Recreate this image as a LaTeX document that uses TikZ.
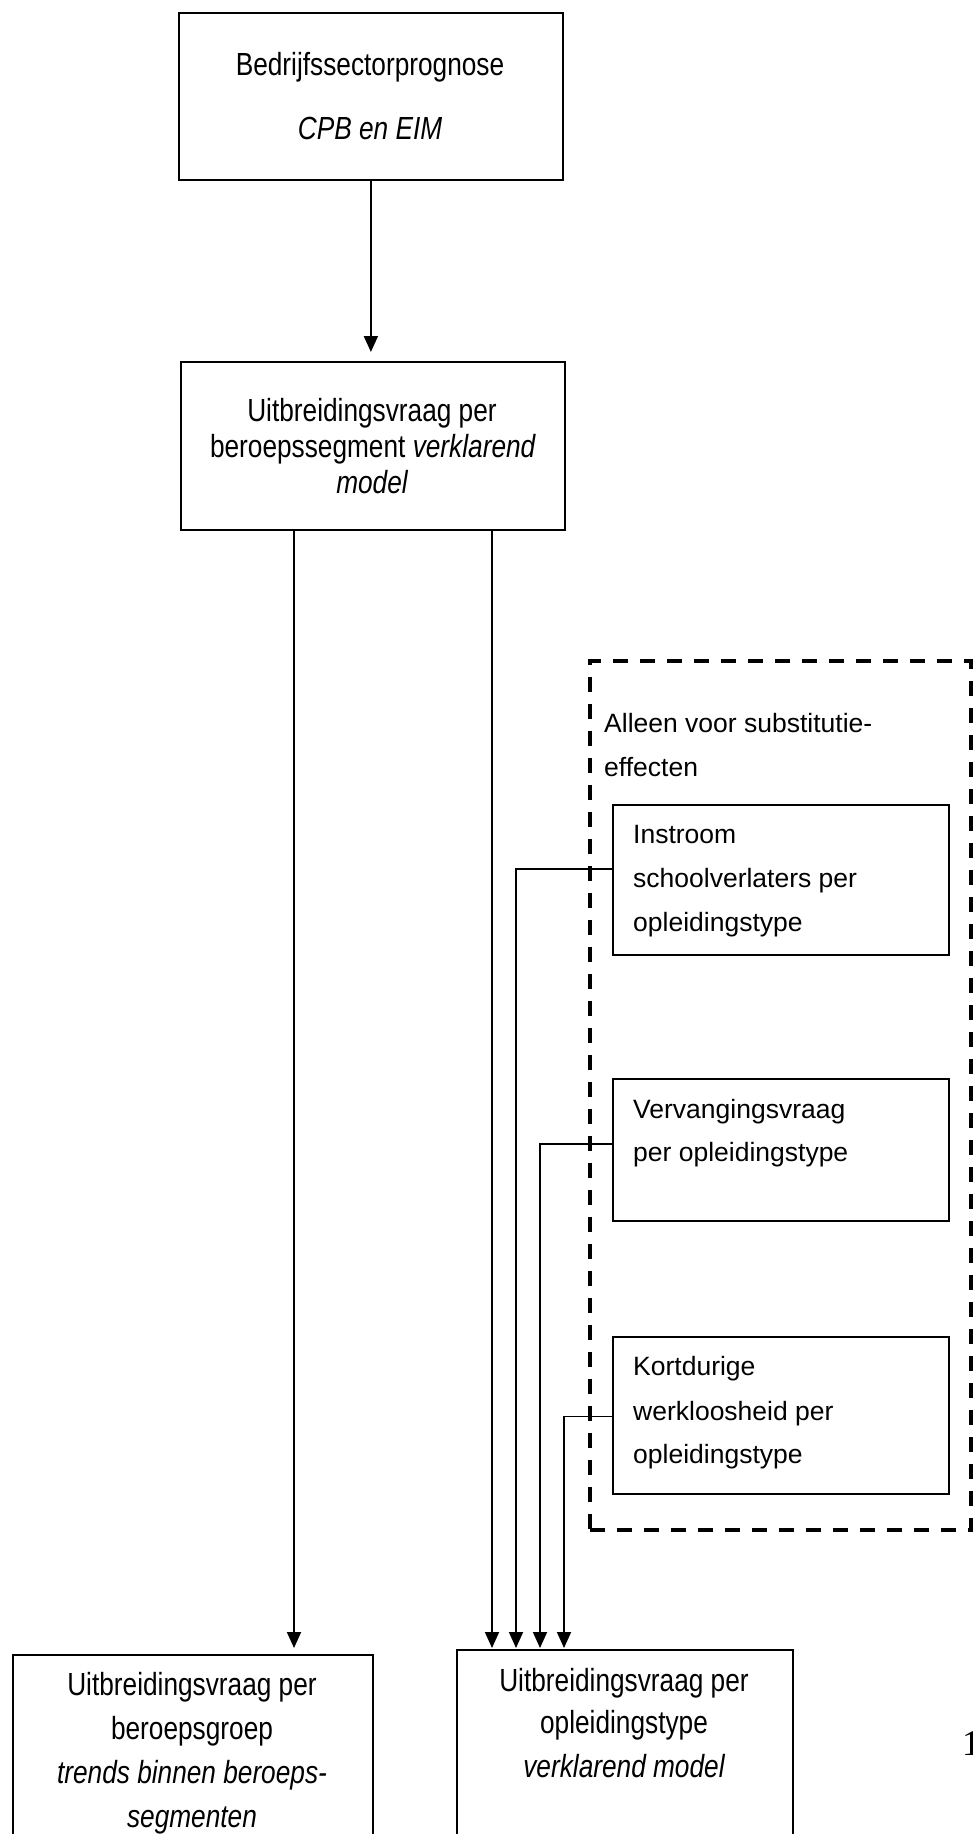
\documentclass[tikz,border=0pt]{standalone}
\usepackage{fontspec}
\setmainfont{Liberation Sans}
\newfontfamily\nar[FakeStretch=0.82]{Liberation Sans}
\newfontfamily\serifone{Liberation Serif}
\usetikzlibrary{arrows.meta}
\begin{document}
\begin{tikzpicture}[x=1pt,y=-1pt,
  box/.style={draw,line width=1.8pt,inner sep=0pt,anchor=north west},
  main/.style={font=\nar\fontsize{32}{36}\selectfont,inner sep=0pt,anchor=base},
  sub/.style={font=\fontsize{26.5}{44}\selectfont,inner sep=0pt,anchor=base west},
  conn/.style={line width=1.8pt},
  arr/.style={conn,-{Triangle[width=14pt,length=16pt]}},
  dashbox/.style={draw,line width=3.6pt,dash pattern=on 15pt off 12pt,inner sep=0pt,anchor=north west}
]
\useasboundingbox (0,0) rectangle (972,1834);
% boxes
\node[box,minimum width=384pt,minimum height=167pt] (top) at (178,12) {};
\node[box,minimum width=384pt,minimum height=168pt] (mid) at (180,361) {};
\node[dashbox,minimum width=381pt,minimum height=869pt] (grp) at (588,659) {};
\node[box,minimum width=336pt,minimum height=150pt] (ins) at (612,804) {};
\node[box,minimum width=336pt,minimum height=142pt] (verv) at (612,1078) {};
\node[box,minimum width=336pt,minimum height=157pt] (kort) at (612,1336) {};
\node[box,minimum width=360pt,minimum height=230pt] (lb) at (12,1654) {};
\node[box,minimum width=336pt,minimum height=230pt] (rb) at (456,1649) {};
% texts
\node[main] (ta) at (370,75) {Bedrijfssectorprognose};
\node[main] (tb) at (370,139) {\itshape CPB en EIM};
\node[main] (ma) at (372,421) {Uitbreidingsvraag per};
\node[main] (mb) at (373,457) {beroepssegment \textit{verklarend}};
\node[main] (mc) at (372,493) {\itshape model};
\node[sub] (ga) at (604,732) {Alleen voor substitutie-};
\node[sub] (gb) at (604,776) {effecten};
\node[sub] (ia) at (633,843) {Instroom};
\node[sub] (ib) at (633,887) {schoolverlaters per};
\node[sub] (ic) at (633,931) {opleidingstype};
\node[sub] (va) at (633,1118) {Vervangingsvraag};
\node[sub] (vb) at (633,1161) {per opleidingstype};
\node[sub] (ka) at (633,1375) {Kortdurige};
\node[sub] (kb) at (633,1420) {werkloosheid per};
\node[sub] (kc) at (633,1463) {opleidingstype};
\node[main] (la) at (192,1695) {Uitbreidingsvraag per};
\node[main] (lbb) at (192,1739) {beroepsgroep};
\node[main] (lc) at (192,1783) {\itshape trends binnen beroeps-};
\node[main] (ld) at (192,1827) {\itshape segmenten};
\node[main] (ra) at (624,1691) {Uitbreidingsvraag per};
\node[main] (rbb) at (624,1733) {opleidingstype};
\node[main] (rc) at (624,1777) {\itshape verklarend model};
\node[font=\serifone\fontsize{36}{36}\selectfont,anchor=base west,inner sep=0pt] (pg) at (962,1755) {1};
% connector end points
\coordinate (l1) at ([xshift=282pt]lb.north west);
\coordinate (r1) at ([xshift=36pt]rb.north west);
\coordinate (r2) at ([xshift=60pt]rb.north west);
\coordinate (r3) at ([xshift=84pt]rb.north west);
\coordinate (r4) at ([xshift=108pt]rb.north west);
% connectors
\draw[arr,shorten >=9pt] (top.south) -- (top.south |- mid.north);
\draw[arr,shorten >=6pt] (mid.south -| l1) -- (l1);
\draw[arr,shorten >=1pt] (mid.south -| r1) -- (r1);
\draw[arr,shorten >=1pt] ([yshift=11pt]ins.west) -| (r2);
\draw[arr,shorten >=1pt] ([yshift=6pt]verv.west) -| (r3);
\draw[arr,shorten >=1pt] ([yshift=-1pt]kort.west) -| (r4);
\end{tikzpicture}
\end{document}
